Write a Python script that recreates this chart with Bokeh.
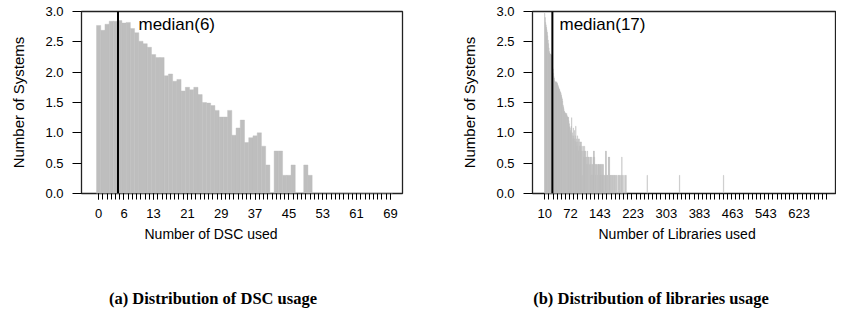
from bokeh.plotting import figure
from bokeh.models import Range1d, FixedTicker, Span, Label, PrintfTickFormatter, Div, Spacer, Title
from bokeh.layouts import row, column
from bokeh.embed import file_html
from bokeh.resources import INLINE

# ---------------- data ----------------
# (a) DSC usage: category = number of DSC used, height = log10(number of systems)
dsc_values = list(range(0, 70))
dsc_heights = [
    2.77, 2.69, 2.79, 2.84, 2.84, 2.85, 2.81, 2.82, 2.72, 2.65,
    2.51, 2.47, 2.41, 2.29, 2.24, 2.24, 1.94, 1.97, 1.85, 1.88,
    1.69, 1.75, 1.71, 1.75, 1.63, 1.50, 1.49, 1.45, 1.37, 1.26,
    1.26, 1.37, 0.96, 1.08, 1.21, 0.84, 0.92, 0.95, 1.00, 0.78,
    0.47, 0.00, 0.70, 0.70, 0.30, 0.30, 0.47, 0.00, 0.00, 0.47,
    0.30, 0.00, 0.00, 0.00, 0.00, 0.00, 0.00, 0.00, 0.00, 0.00,
    0.00, 0.00, 0.00, 0.00, 0.00, 0.00, 0.00, 0.00, 0.00, 0.00,
]
dsc_label_values = [0, 6, 13, 21, 29, 37, 45, 53, 61, 69]
dsc_median_text = "median(6)"
dsc_median_pos = 4.58

# (b) libraries usage
lib_values = list(range(10, 210)) + [257, 335, 441]
lib_heights = [
    2.97, 2.90, 2.82, 2.78, 2.74, 2.70, 2.66, 2.60, 2.53, 2.47,
    2.40, 2.34, 2.31, 2.30, 2.30, 2.29, 2.28, 2.28, 2.20, 2.08,
    2.05, 1.98, 1.93, 1.90, 1.86, 1.84, 1.84, 1.83, 1.83, 1.84,
    1.82, 1.80, 1.78, 1.76, 1.74, 1.72, 1.71, 1.68, 1.67, 1.65,
    1.62, 1.59, 1.56, 1.52, 1.46, 1.43, 1.40, 1.36, 1.34, 1.33,
    1.32, 1.32, 1.30, 1.32, 1.28, 1.26, 1.25, 1.26, 1.20, 1.15,
    1.10, 1.08, 1.04, 1.00, 1.11, 1.25, 0.95, 1.00, 0.90, 1.08,
    0.95, 0.90, 1.04, 0.85, 0.95, 1.11, 0.85, 0.90, 0.78, 0.95,
    0.85, 0.90, 0.70, 0.90, 0.78, 0.85, 0.85, 0.78, 0.85, 0.70,
    0.78, 0.30, 0.70, 0.78, 0.60, 0.70, 0.78, 0.70, 0.60, 0.70,
    0.60, 0.48, 0.60, 0.70, 0.48, 0.60, 0.60, 0.00, 0.48, 0.60,
    0.60, 0.48, 0.30, 0.60, 0.48, 0.30, 0.48, 0.60, 0.70, 0.70,
    0.60, 0.48, 0.48, 0.30, 0.48, 0.48, 0.00, 0.48, 0.30, 0.48,
    0.48, 0.48, 0.48, 0.30, 0.48, 0.48, 0.30, 0.48, 0.48, 0.30,
    0.48, 0.48, 0.30, 0.30, 0.00, 0.30, 0.30, 0.70, 0.70, 0.30,
    0.00, 0.30, 0.30, 0.00, 0.60, 0.60, 0.60, 0.30, 0.00, 0.30,
    0.30, 0.00, 0.30, 0.30, 0.00, 0.30, 0.00, 0.30, 0.30, 0.00,
    0.30, 0.00, 0.30, 0.00, 0.30, 0.00, 0.00, 0.30, 0.00, 0.30,
    0.30, 0.00, 0.00, 0.30, 0.00, 0.30, 0.60, 0.00, 0.30, 0.00,
    0.00, 0.30, 0.00, 0.00, 0.30, 0.00, 0.30, 0.00, 0.00, 0.00,
    0.30, 0.30, 0.30,
]
lib_tick_values = list(range(10, 700, 10))
lib_label_values = [10, 72, 143, 223, 303, 383, 463, 543, 623]
lib_median_text = "median(17)"
lib_median_pos = 28.5

y_ticks = [0.0, 0.5, 1.0, 1.5, 2.0, 2.5, 3.0]
y_title = "Number of Systems"
captions = ["(a) Distribution of DSC usage", "(b) Distribution of libraries usage"]

SANS = "Liberation Sans"
SERIF = "Liberation Serif"
BAR = "#BEBEBE"


def panel(values, heights, xr, minor_ticks, label_ticks, show_major, median_pos,
          median_text, median_x, x_title, title_offset, width, b_left, b_right):
    p = figure(width=width, height=280, x_range=Range1d(*xr), y_range=Range1d(0, 3),
               output_backend="svg", toolbar_location=None,
               min_border_left=b_left, min_border_right=b_right,
               min_border_top=11, min_border_bottom=87)
    p.grid.visible = False
    p.outline_line_color = "#222222"
    p.outline_line_width = 1.3
    p.background_fill_color = "white"
    p.border_fill_color = "white"

    p.vbar(x=values, top=heights, bottom=0, width=1.0,
           fill_color=BAR, line_color=BAR, line_width=0.4)

    p.add_layout(Span(location=median_pos, dimension="height",
                      line_color="black", line_width=2))
    p.add_layout(Label(x=median_x, y=2.79, text=median_text, text_font=SANS,
                       text_font_size="17px", text_baseline="middle",
                       text_color="black"))

    xa = p.xaxis[0]
    xa.ticker = FixedTicker(ticks=label_ticks, minor_ticks=minor_ticks)
    xa.axis_line_color = None
    xa.major_tick_in = 0
    xa.major_tick_out = 6 if show_major else 0
    xa.major_tick_line_color = "black" if show_major else None
    xa.minor_tick_in = 0
    xa.minor_tick_out = 6
    xa.minor_tick_line_color = "black"
    xa.major_label_standoff = 9
    xa.major_label_text_font = SANS
    xa.major_label_text_font_size = "13px"
    xa.major_label_text_color = "black"

    p.add_layout(Title(text=x_title, align="left", offset=title_offset, standoff=10,
                       vertical_align="top", text_font=SANS, text_font_size="14px",
                       text_font_style="normal", text_color="black"), "below")

    ya = p.yaxis[0]
    ya.ticker = FixedTicker(ticks=y_ticks)
    ya.formatter = PrintfTickFormatter(format="%.1f")
    ya.axis_line_color = None
    ya.major_tick_in = 0
    ya.major_tick_out = 9
    ya.major_tick_line_color = "black"
    ya.minor_tick_out = 0
    ya.minor_tick_line_color = None
    ya.major_label_standoff = 9
    ya.major_label_text_font = SANS
    ya.major_label_text_font_size = "13px"
    ya.major_label_text_color = "black"
    ya.axis_label = y_title
    ya.axis_label_text_font = SANS
    ya.axis_label_text_font_size = "15px"
    ya.axis_label_text_font_style = "normal"
    ya.axis_label_text_color = "black"
    ya.axis_label_standoff = 15
    return p


p1 = panel(dsc_values, dsc_heights, (-4.05, 71.86), dsc_values, dsc_label_values, True,
           dsc_median_pos, dsc_median_text, 9.43, "Number of DSC used", 63, 426, 81, 24)
p2 = panel(lib_values, lib_heights, (-19.4, 710.7), lib_tick_values, lib_label_values, False,
           lib_median_pos, lib_median_text, 45.6, "Number of Libraries used", 66, 410, 106, 1)

cap_style = {"font-family": "Liberation Serif", "font-weight": "bold",
             "font-size": "16.5px", "text-align": "center", "color": "black",
             "padding-top": "10px", "line-height": "17px", "white-space": "nowrap"}
d1 = Div(text=captions[0], width=426, height=26, margin=0, styles=cap_style)
d2 = Div(text=captions[1], width=370, height=26, margin=0, styles=cap_style)

layout = column(row(p1, p2), row(d1, Spacer(width=40, height=26, margin=0), d2))
open("out.html", "w").write(file_html(layout, INLINE))
